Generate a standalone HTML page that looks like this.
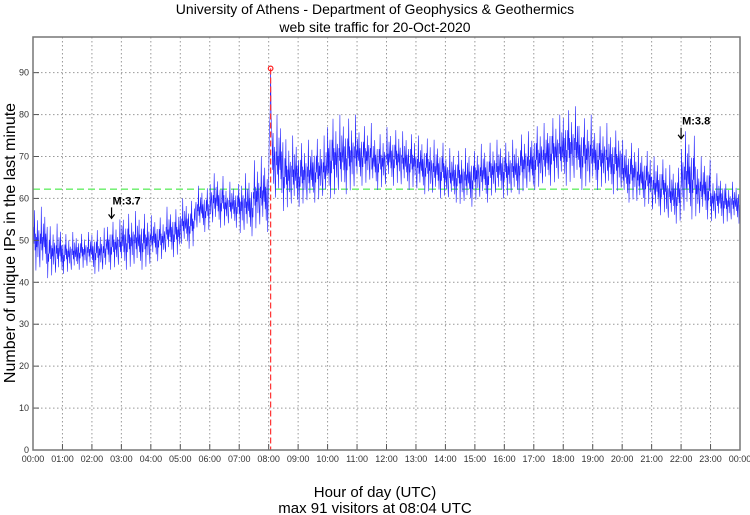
<!DOCTYPE html>
<html><head><meta charset="utf-8"><style>
body{margin:0;background:#fff;}
svg{display:block;font-family:"Liberation Sans",sans-serif;}
</style></head><body>
<svg id="chart" width="750" height="515" viewBox="0 0 750 515" xmlns="http://www.w3.org/2000/svg">
<text x="375" y="14" font-size="14" text-anchor="middle">University of Athens - Department of Geophysics &amp; Geothermics</text>
<text x="375" y="32" font-size="14" text-anchor="middle">web site traffic for 20-Oct-2020</text>
<text x="375" y="497" font-size="15" text-anchor="middle">Hour of day (UTC)</text>
<text x="375" y="513" font-size="15" text-anchor="middle">max 91 visitors at 08:04 UTC</text>
<text transform="translate(15,243) rotate(-90)" font-size="16" text-anchor="middle">Number of unique IPs in the last minute</text>
<g id="grid"></g><g id="series"></g><g id="axes"></g>
</svg>
<script>
const hourLabels=["00:00","01:00","02:00","03:00","04:00","05:00","06:00","07:00","08:00","09:00","10:00","11:00","12:00","13:00","14:00","15:00","16:00","17:00","18:00","19:00","20:00","21:00","22:00","23:00","00:00"];
const yTicks=[0,10,20,30,40,50,60,70,80,90];
const binLow=[42,41,42,43,42,43,43,43,45,46,48,52,53,53,51,52,58,57,58,59,60,61,63,62,63,62,61,60,59,58,59,60,60,61,62,63,63,62,62,61,59,58,56,54,55,55,54,54];
const binHigh=[58,54,52,52,53,55,57,57,56,58,60,63,66,64,66,70,80,75,74,75,80,80,78,76,77,76,75,74,72,72,73,74,74,76,78,80,82,80,78,77,74,72,70,68,76,70,66,64];
const meanValue=62.2;
const peakMinute=484;
const peakValue=91;
const marks=[{label:"M:3.7",minute:160,value:55},{label:"M:3.8",minute:1320,value:74}];
const X0=33,X1=740,Y0=450,YMAX=98.5;
const x=m=>X0+(X1-X0)*m/1440;
const y=v=>Y0-(Y0-37)*v/YMAX;
const NS="http://www.w3.org/2000/svg";
function mk(t,a,p){const e=document.createElementNS(NS,t);for(const k in a)e.setAttribute(k,a[k]);p.appendChild(e);return e;}
const grid=document.getElementById('grid'),series=document.getElementById('series'),axes=document.getElementById('axes');
hourLabels.forEach((l,i)=>{
  const xx=x(i*60);
  if(i>0&&i<24){const g=mk('line',{x1:xx,x2:xx,y1:37,y2:Y0,stroke:'#999','stroke-dasharray':'1.5,2.5','stroke-width':1},grid);
  
  }
  const t=mk('line',{x1:xx,x2:xx,y1:Y0,y2:Y0-6,stroke:'#555'},axes);
  
  
  const tx=mk('text',{x:xx,y:462,'font-size':9,'text-anchor':'middle',fill:'#333'},axes);tx.textContent=l;
  
  
});
yTicks.forEach(v=>{
  const yy=y(v);
  if(v>0){const g=mk('line',{x1:X0,x2:X1,y1:yy,y2:yy,stroke:'#999','stroke-dasharray':'1.5,2.5'},grid);
  
  }
  const t=mk('line',{x1:X0,x2:X0+6,y1:yy,y2:yy,stroke:'#555'},axes);
  
  
  const tx=mk('text',{x:X0-4,y:yy+3,'font-size':9,'text-anchor':'end',fill:'#333'},axes);tx.textContent=v;
  
  
});
const frame=mk('rect',{x:X0,y:37,width:X1-X0,height:Y0-37,fill:'none',stroke:'#777','stroke-width':1.5},axes);


const ml=mk('line',{x1:X0,x2:X1,y1:y(meanValue),y2:y(meanValue),stroke:'#66ee66','stroke-dasharray':'7,4','stroke-width':1.3},series);


const tex=[0.3,0.7,0.45,0.95,0.35,0.6,0.05,0.55,0.4,0.8,0.25,0.5,0.65,0.3,0.1,0.6,0.45,1,0.35,0.55,0.2,0.75,0.5,0.4,0.85,0.3,0.6,0.15,0.5,0.7,0.0,0.45];
let pts=[];
for(let m=0;m<1440;m++){
  const b=Math.floor(m/30);const lo=binLow[b],hi=binHigh[b];
  let v=lo+(hi-lo)*tex[m%tex.length];
  if(Math.abs(m-peakMinute)<=3)v=m===peakMinute?peakValue:peakValue-8-Math.abs(m-peakMinute)*3;
  pts.push(x(m).toFixed(1)+','+y(v).toFixed(1));
}
const pl=mk('polyline',{points:pts.join(' '),fill:'none',stroke:'#2020ff','stroke-width':0.6},series);


const pk=mk('line',{x1:x(peakMinute),x2:x(peakMinute),y1:y(peakValue),y2:Y0,stroke:'#ff3333','stroke-dasharray':'6,3','stroke-width':1.2},series);


const pc=mk('circle',{cx:x(peakMinute),cy:y(peakValue),r:2.3,fill:'none',stroke:'#ff2222','stroke-width':1.2},series);


marks.forEach(mm=>{
  const xx=x(mm.minute),yy=y(mm.value);
  const t=mk('text',{x:xx+1,y:yy-15,'font-size':11,'font-weight':'bold'},series);t.textContent=mm.label;
  
  
  const a=mk('path',{d:`M${xx},${yy-12} L${xx},${yy-2} M${xx-3},${yy-5} L${xx},${yy-1} L${xx+3},${yy-5}`,stroke:'#000','stroke-width':1.2,fill:'none'},series);
  
  
});
</script>
</body></html>
